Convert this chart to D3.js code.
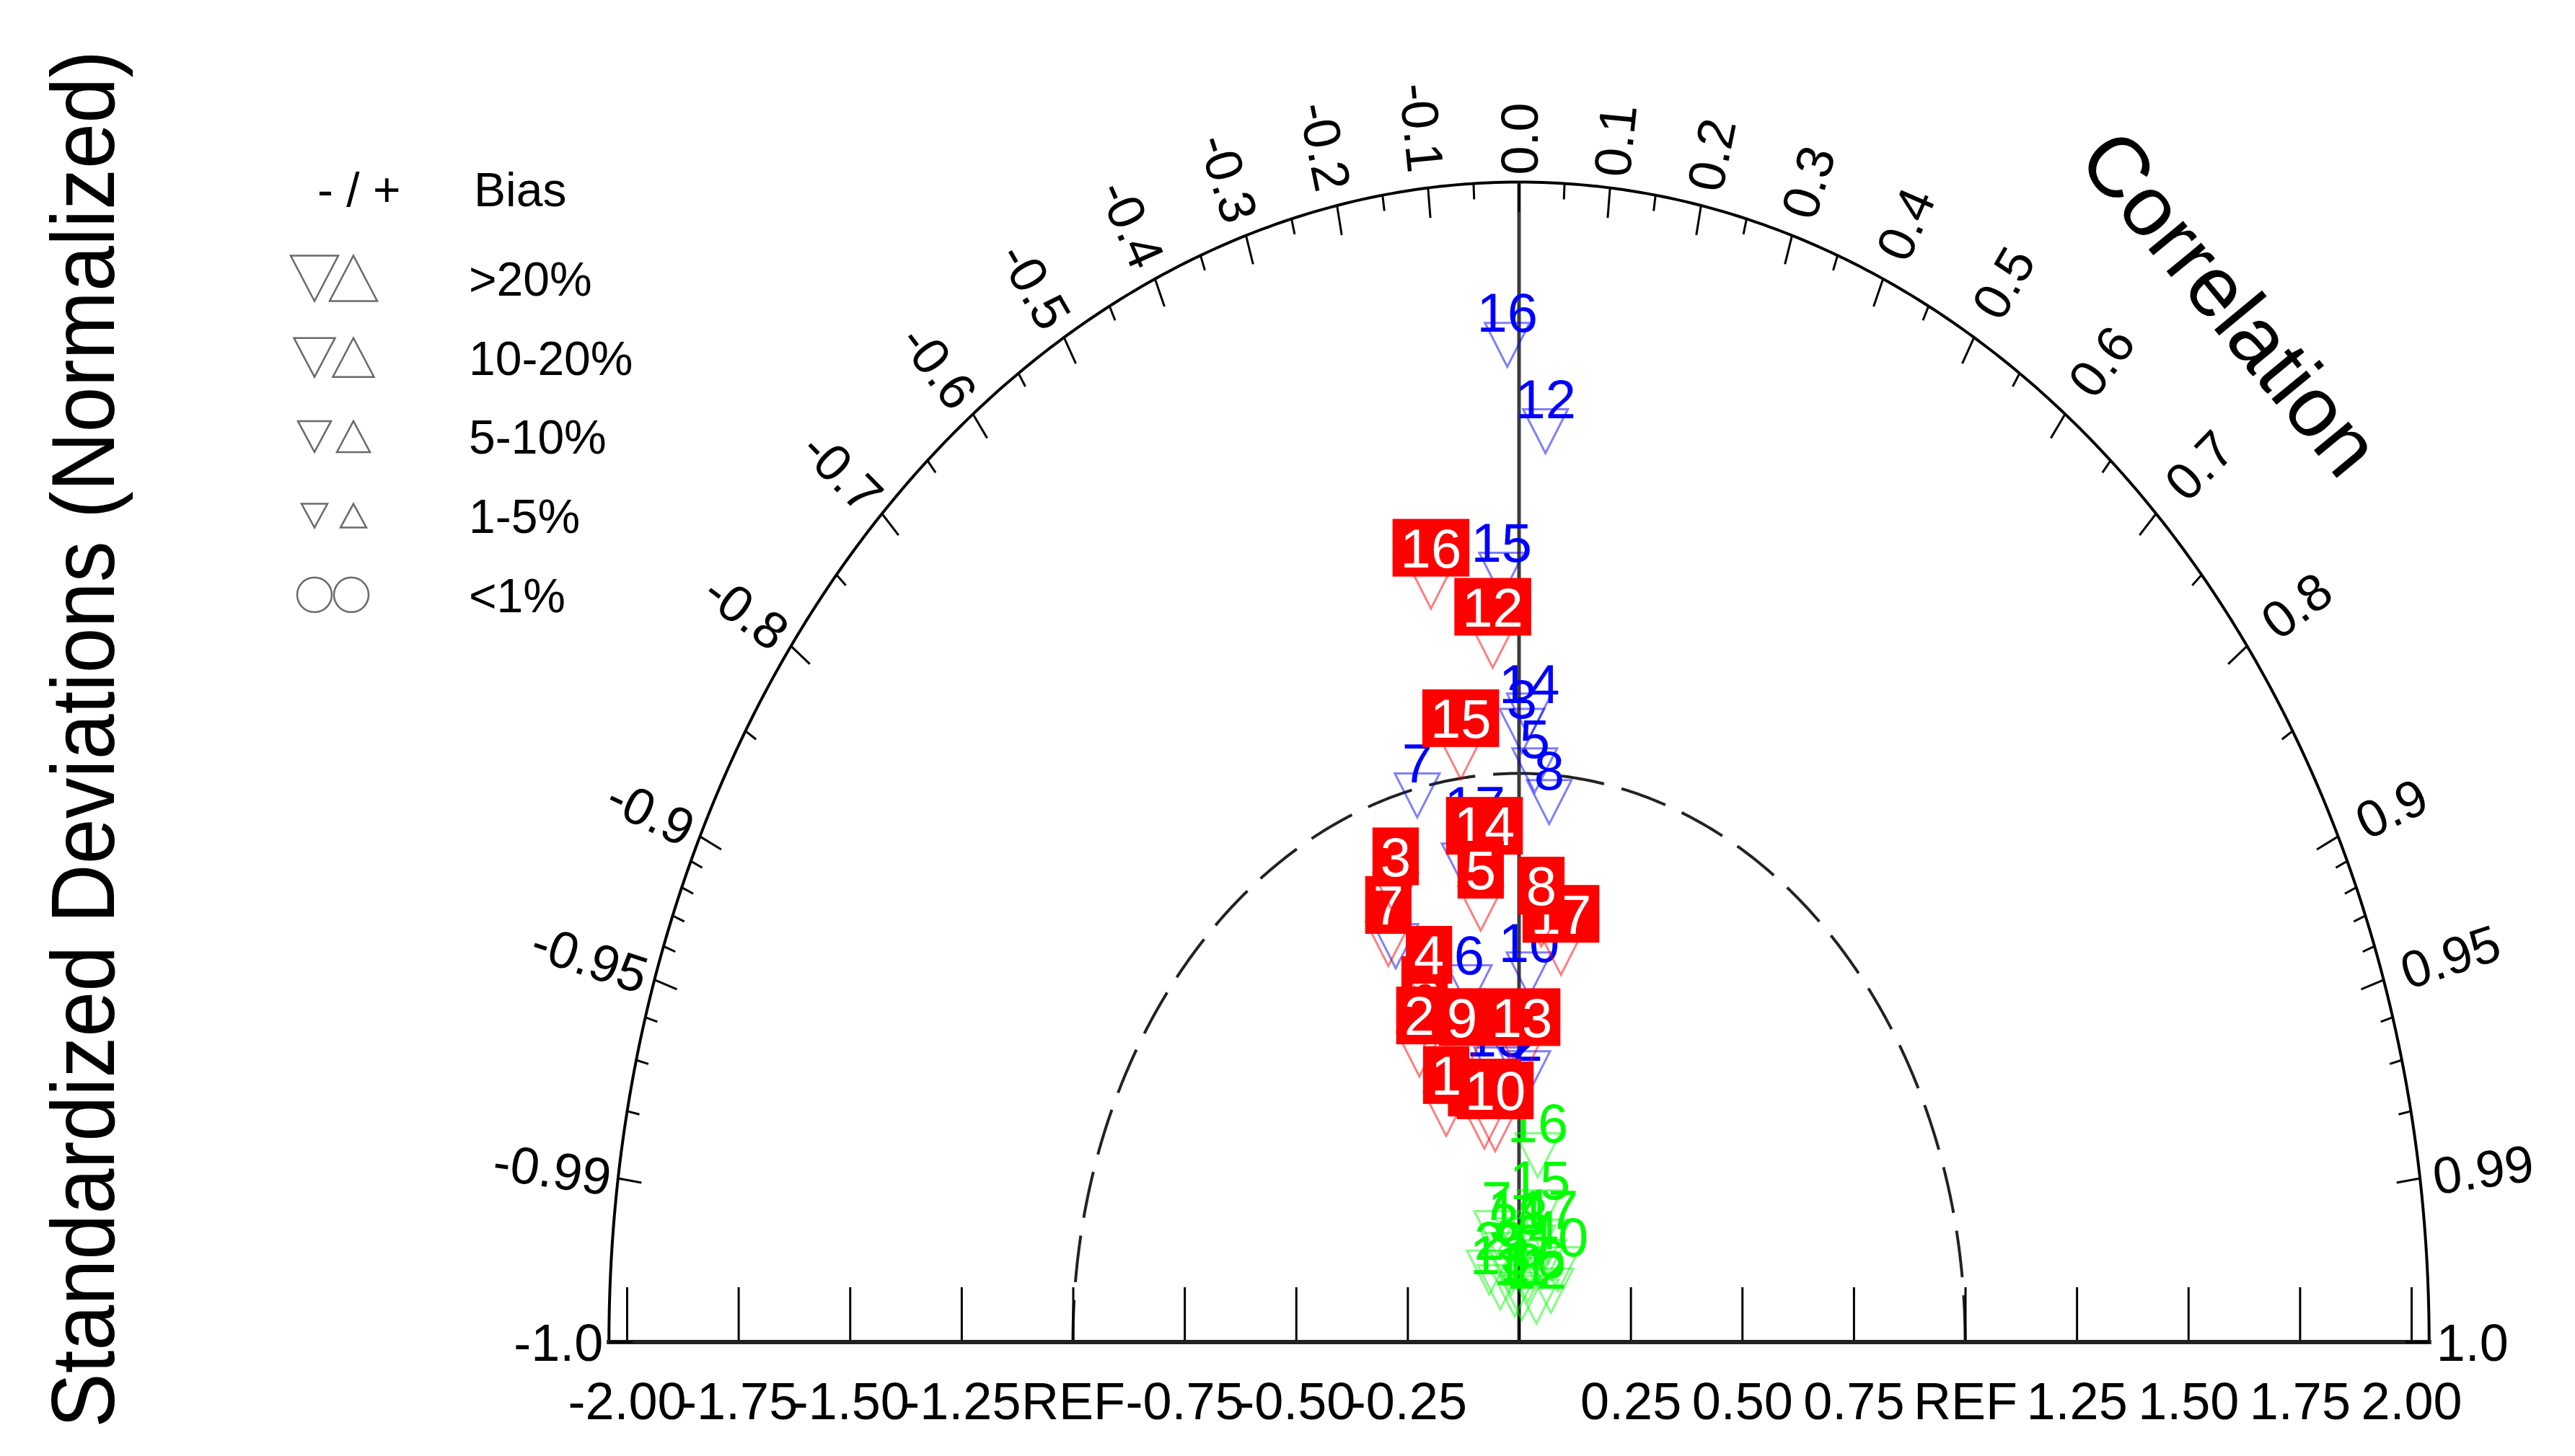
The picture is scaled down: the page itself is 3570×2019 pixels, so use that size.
<!DOCTYPE html>
<html>
<head>
<meta charset="utf-8">
<script src="https://cdn.jsdelivr.net/npm/d3@7"></script>
<style>
  html, body { margin: 0; padding: 0; background: #fff; }
  svg text { font-family: "Liberation Sans", Arial, Helvetica, sans-serif; }
</style>
</head>
<body>
<svg id="chart" width="3570" height="2019"></svg>
<script>
// model numbers written next to each marker
const modelIds = d3.range(1, 18);

// normalized standard deviation / correlation per model
const greenStd = [0.084, 0.139, 0.157, 0.151, 0.111, 0.115, 0.198, 0.169, 0.123, 0.155, 0.078, 0.081, 0.105, 0.179, 0.233, 0.331, 0.188];
const greenCor = [-0.115, -0.478, -0.216, 0.364, 0.175, 0.620, -0.253, 0.182, -0.145, 0.563, 0.083, 0.480, -0.400, -0.009, 0.201, 0.127, 0.345];

const blueStd = [0.847, 0.473, 1.075, 0.749, 1.006, 0.634, 0.988, 0.952, 0.852, 0.647, 0.511, 1.603, 0.482, 1.102, 1.350, 1.754, 0.892];
const blueCor = [-0.145, 0.041, 0.006, -0.369, 0.035, -0.176, -0.231, 0.071, -0.120, 0.035, -0.035, 0.037, -0.104, 0.021, -0.029, -0.015, -0.111];

const redStd = [0.433, 0.553, 0.833, 0.645, 0.767, 0.598, 0.759, 0.736, 0.519, 0.378, 0.387, 1.226, 0.503, 0.843, 1.037, 1.343, 0.691];
const redCor = [-0.377, -0.404, -0.332, -0.313, -0.112, -0.354, -0.386, 0.068, -0.246, -0.141, -0.201, -0.048, 0.013, -0.092, -0.126, -0.147, 0.136];

// x axis (standard deviation) ticks
const stdTicks = [-2, -1.75, -1.5, -1.25, -1, -0.75, -0.5, -0.25, 0, 0.25, 0.5, 0.75, 1, 1.25, 1.5, 1.75, 2];
const stdTickLabels = ["-2.00", "-1.75", "-1.50", "-1.25", "REF", "-0.75", "-0.50", "-0.25", "",
                       "0.25", "0.50", "0.75", "REF", "1.25", "1.50", "1.75", "2.00"];

// correlation ticks round the outer arc
const corTicks = [-1, -0.99, -0.95, -0.9, -0.8, -0.7, -0.6, -0.5, -0.4, -0.3, -0.2, -0.1,
                  0, 0.1, 0.2, 0.3, 0.4, 0.5, 0.6, 0.7, 0.8, 0.9, 0.95, 0.99, 1];
const corTickLabels = ["-1.0", "-0.99", "-0.95", "-0.9", "-0.8", "-0.7", "-0.6", "-0.5", "-0.4", "-0.3", "-0.2", "-0.1",
                       "0.0", "0.1", "0.2", "0.3", "0.4", "0.5", "0.6", "0.7", "0.8", "0.9", "0.95", "0.99", "1.0"];
const corMinor = [0.05, 0.15, 0.25, 0.35, 0.45, 0.55, 0.65, 0.75, 0.85, 0.91, 0.92, 0.93, 0.94, 0.96, 0.97, 0.98];

const biasLabels = [">20%", "10-20%", "5-10%", "1-5%", "<1%"];

const svg = d3.select("#chart");
const cx = 2106, cy = 1861;
const arcR = 2.04;   // outer arc sits a bit past the 2.00 tick

const x = d3.scaleLinear().domain([-2, 2]).range([cx - 1237, cx + 1237]);
const y = d3.scaleLinear().domain([0, 2]).range([cy, cy - 1577]);

// (std, corr) -> pixel
const pos = (s, c) => [x(s * c), y(s * Math.sqrt(Math.max(0, 1 - c * c)))];

function radialDir(c) {
  const th = Math.acos(c);
  const vx = Math.cos(th) * (x(1) - x(0));
  const vy = -Math.sin(th) * (y(0) - y(1));
  const n = Math.hypot(vx, vy);
  return [vx / n, vy / n];
}

function tri(px, py, w, h, down) {
  const p = d3.path();
  if (down) {
    p.moveTo(px - w / 2, py - h / 2); p.lineTo(px + w / 2, py - h / 2); p.lineTo(px, py + h / 2);
  } else {
    p.moveTo(px - w / 2, py + h / 2); p.lineTo(px + w / 2, py + h / 2); p.lineTo(px, py - h / 2);
  }
  p.closePath();
  return p.toString();
}

const arcPts = r => d3.range(0, 180.5, 0.5).map(a => pos(r, Math.cos(a * Math.PI / 180)));

// outer arc
svg.append("path")
  .attr("d", d3.line()(arcPts(arcR)))
  .attr("fill", "none").attr("stroke", "#000").attr("stroke-width", 4);

// REF arc
svg.append("path")
  .attr("d", d3.line()(arcPts(1)))
  .attr("fill", "none").attr("stroke", "#222").attr("stroke-width", 4)
  .attr("stroke-dasharray", "65,25");

// zero-correlation line
svg.append("line")
  .attr("x1", pos(0, 0)[0]).attr("y1", pos(0, 0)[1])
  .attr("x2", pos(arcR, 0)[0]).attr("y2", pos(arcR, 0)[1])
  .attr("stroke", "#3a3a3a").attr("stroke-width", 5);

// bottom axis
const axis = d3.axisBottom(x)
  .tickValues(stdTicks)
  .tickSize(-76)
  .tickPadding(56)
  .tickFormat(d => stdTickLabels[stdTicks.indexOf(d)]);

const gAxis = svg.append("g").attr("transform", `translate(0,${cy})`).call(axis);
gAxis.select(".domain").remove();
gAxis.selectAll(".tick line").attr("stroke", "#000").attr("stroke-width", 3);
gAxis.selectAll(".tick text")
  .attr("font-size", 72).attr("fill", "#000")
  .attr("font-family", "Liberation Sans, Arial, sans-serif");

svg.append("line")
  .attr("x1", x(-2.045)).attr("x2", x(2.045))
  .attr("y1", cy).attr("y2", cy)
  .attr("stroke", "#222").attr("stroke-width", 6);

// arc ticks
const allMinor = corMinor.concat(corMinor.map(v => -v));
svg.append("g").selectAll("line")
  .data(corTicks.map(c => ({c, len: 0.053})).concat(allMinor.map(c => ({c, len: 0.028}))))
  .join("line")
  .attr("x1", d => pos(arcR, d.c)[0]).attr("y1", d => pos(arcR, d.c)[1])
  .attr("x2", d => pos(arcR - d.len, d.c)[0]).attr("y2", d => pos(arcR - d.len, d.c)[1])
  .attr("stroke", "#000").attr("stroke-width", 3);

// arc labels
svg.append("g").selectAll("text")
  .data(corTicks)
  .join("text")
  .attr("transform", c => {
    const th = Math.acos(c);
    const [px, py] = pos(arcR, c);
    const [ux, uy] = radialDir(c);
    const right = c >= 0;
    const d = right ? 10 + 30 * Math.sin(2 * th) : 8 + 14 * Math.sin(th);
    const deg = th * 180 / Math.PI;
    const rot = right ? -deg : 180 - deg;
    return `translate(${px + ux * d},${py + uy * d}) rotate(${rot})`;
  })
  .attr("text-anchor", c => c >= 0 ? "start" : "end")
  .attr("dy", "0.36em")
  .attr("font-size", 72)
  .attr("fill", "#000")
  .text((c, i) => corTickLabels[i]);

// titles
svg.append("text")
  .attr("transform", "translate(158,1025) rotate(-90)")
  .attr("text-anchor", "middle")
  .attr("font-size", 124)
  .attr("textLength", 1910)
  .attr("lengthAdjust", "spacingAndGlyphs")
  .text("Standardized Deviations (Normalized)");

svg.append("text")
  .attr("transform", "translate(3061,446) rotate(50.5)")
  .attr("text-anchor", "middle")
  .attr("font-size", 118)
  .text("Correlation");

// legend
const legend = svg.append("g");
const legendGrey = "#6a6a6a";
const legendSizes = [[66, 63], [57, 54], [46, 43], [36, 33]];
legend.append("text").attr("x", 440).attr("y", 286).attr("font-size", 66).text("- / +");
legend.append("text").attr("x", 657).attr("y", 286).attr("font-size", 66).text("Bias");

biasLabels.forEach((lab, i) => {
  const ry = 386 + i * 109.7;
  if (i < legendSizes.length) {
    const [w, h] = legendSizes[i];
    legend.append("path").attr("d", tri(436, ry, w, h, true))
      .attr("fill", "none").attr("stroke", legendGrey).attr("stroke-width", 2.5);
    legend.append("path").attr("d", tri(490, ry, w, h, false))
      .attr("fill", "none").attr("stroke", legendGrey).attr("stroke-width", 2.5);
  } else {
    [436, 487].forEach(mx => legend.append("circle")
      .attr("cx", mx).attr("cy", ry).attr("r", 24)
      .attr("fill", "none").attr("stroke", legendGrey).attr("stroke-width", 2.5));
  }
  legend.append("text").attr("x", 650).attr("y", ry + 24).attr("font-size", 66).text(lab);
});

// model markers: higher numbers first so lower ones sit on top
function drawSeries(std, cor, color, boxed) {
  const g = svg.append("g");
  d3.range(std.length - 1, -1, -1).forEach(i => {
    const [px, py] = pos(std[i], cor[i]);
    const m = g.append("g");
    m.append("path")
      .attr("d", tri(px, py, 62, 61, true))
      .attr("fill", "none").attr("stroke", color)
      .attr("stroke-opacity", 0.5).attr("stroke-width", 3);
    const ly = py - (boxed ? 54 : 45);
    const t = m.append("text")
      .attr("x", px).attr("y", ly).attr("dy", "0.36em")
      .attr("text-anchor", "middle")
      .attr("font-size", 76)
      .attr("fill", boxed ? "#fff" : color)
      .text(modelIds[i]);
    if (boxed) {
      const w = t.node().getComputedTextLength() + 22;
      m.insert("rect", "text")
        .attr("x", px - w / 2).attr("y", ly - 40)
        .attr("width", w).attr("height", 80)
        .attr("fill", color);
    }
  });
}

drawSeries(greenStd, greenCor, "#00ff00", false);
drawSeries(blueStd, blueCor, "#0000ff", false);
drawSeries(redStd, redCor, "#ff0000", true);
</script>
</body>
</html>
